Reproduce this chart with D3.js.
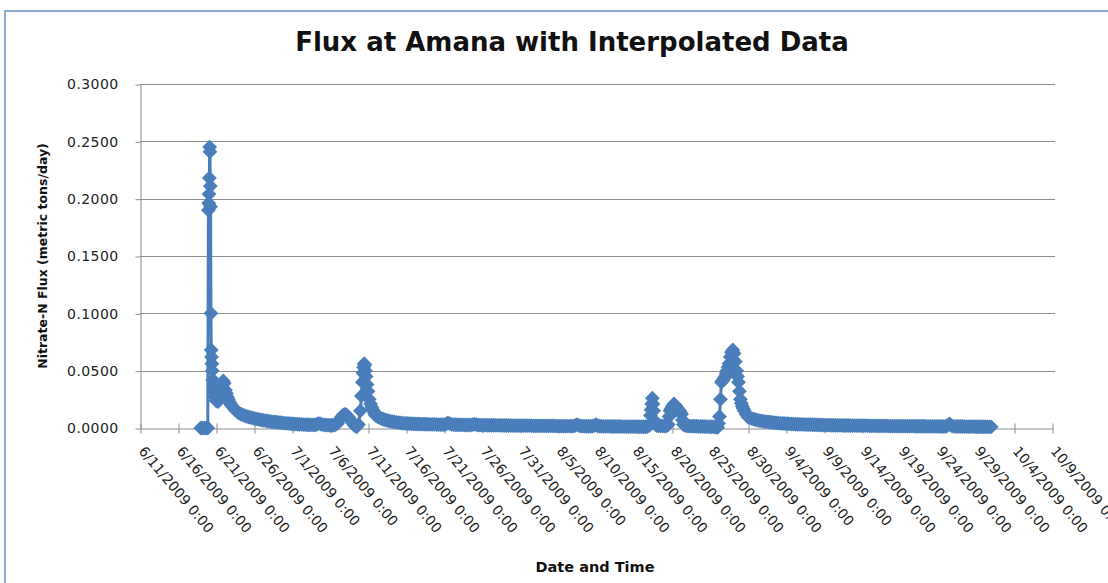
<html>
<head>
<script src="https://cdn.jsdelivr.net/npm/d3@7"></script>
<style>
    body {
        margin: 0;
        background: white;
        font-family: "DejaVu Sans", Verdana, sans-serif;
    }
</style>
</head>
<body>
<svg id="FluxChart"></svg>

<script>
    // Data
    // time stamps of the readings (each line of times matches the same line of values below)
    const readingTimes = [
        "6/19/2009 0:00", "6/19/2009 6:00", "6/19/2009 12:00", "6/19/2009 18:00", "6/19/2009 22:00",
        "6/20/2009 0:00", "6/20/2009 1:00", "6/20/2009 2:00", "6/20/2009 3:00", "6/20/2009 4:00", "6/20/2009 5:00", "6/20/2009 6:00", "6/20/2009 7:00",
        "6/20/2009 8:00", "6/20/2009 9:00", "6/20/2009 10:00", "6/20/2009 11:00", "6/20/2009 12:00", "6/20/2009 14:00", "6/20/2009 16:00", "6/20/2009 18:00", "6/20/2009 21:00",
        "6/21/2009 0:00", "6/21/2009 3:00", "6/21/2009 6:00", "6/21/2009 9:00", "6/21/2009 12:00", "6/21/2009 16:00", "6/21/2009 20:00", "6/21/2009 23:00",
        "6/22/2009 2:00", "6/22/2009 6:00", "6/22/2009 9:00", "6/22/2009 12:00", "6/22/2009 15:00", "6/22/2009 18:00", "6/22/2009 21:00",
        "6/23/2009 0:00", "6/23/2009 6:00", "6/23/2009 12:00", "6/23/2009 18:00",
        "6/24/2009 0:00", "6/24/2009 6:00", "6/24/2009 12:00", "6/24/2009 18:00",
        "6/25/2009 0:00", "6/25/2009 6:00", "6/25/2009 12:00", "6/25/2009 18:00",
        "6/26/2009 0:00", "6/26/2009 6:00", "6/26/2009 12:00", "6/26/2009 18:00",
        "6/27/2009 0:00", "6/27/2009 6:00", "6/27/2009 12:00", "6/27/2009 18:00",
        "6/28/2009 0:00", "6/28/2009 6:00", "6/28/2009 12:00", "6/28/2009 18:00",
        "6/29/2009 0:00", "6/29/2009 6:00", "6/29/2009 12:00", "6/29/2009 18:00",
        "6/30/2009 0:00", "6/30/2009 6:00", "6/30/2009 12:00", "6/30/2009 18:00",
        "7/1/2009 0:00", "7/1/2009 6:00", "7/1/2009 12:00", "7/1/2009 18:00",
        "7/2/2009 0:00", "7/2/2009 6:00", "7/2/2009 12:00", "7/2/2009 18:00",
        "7/3/2009 0:00", "7/3/2009 6:00", "7/3/2009 12:00", "7/3/2009 18:00",
        "7/4/2009 0:00", "7/4/2009 6:00", "7/4/2009 12:00", "7/4/2009 18:00",
        "7/5/2009 0:00", "7/5/2009 6:00", "7/5/2009 12:00", "7/5/2009 18:00",
        "7/6/2009 0:00", "7/6/2009 6:00", "7/6/2009 12:00", "7/6/2009 18:00",
        "7/7/2009 0:00", "7/7/2009 6:00", "7/7/2009 12:00", "7/7/2009 18:00",
        "7/8/2009 0:00", "7/8/2009 6:00", "7/8/2009 12:00", "7/8/2009 18:00",
        "7/9/2009 0:00", "7/9/2009 6:00", "7/9/2009 12:00", "7/9/2009 18:00",
        "7/10/2009 0:00", "7/10/2009 3:00", "7/10/2009 6:00", "7/10/2009 8:00", "7/10/2009 10:00", "7/10/2009 12:00", "7/10/2009 14:00", "7/10/2009 16:00", "7/10/2009 18:00", "7/10/2009 21:00",
        "7/11/2009 0:00", "7/11/2009 4:00", "7/11/2009 8:00", "7/11/2009 12:00", "7/11/2009 15:00", "7/11/2009 18:00", "7/11/2009 21:00",
        "7/12/2009 0:00", "7/12/2009 6:00", "7/12/2009 12:00", "7/12/2009 18:00",
        "7/13/2009 0:00", "7/13/2009 6:00", "7/13/2009 12:00", "7/13/2009 18:00",
        "7/14/2009 0:00", "7/14/2009 6:00", "7/14/2009 12:00", "7/14/2009 18:00",
        "7/15/2009 0:00", "7/15/2009 6:00", "7/15/2009 12:00", "7/15/2009 18:00",
        "7/16/2009 0:00", "7/16/2009 6:00", "7/16/2009 12:00", "7/16/2009 18:00",
        "7/17/2009 0:00", "7/17/2009 6:00", "7/17/2009 12:00", "7/17/2009 18:00",
        "7/18/2009 0:00", "7/18/2009 6:00", "7/18/2009 12:00", "7/18/2009 18:00",
        "7/19/2009 0:00", "7/19/2009 6:00", "7/19/2009 12:00", "7/19/2009 18:00",
        "7/20/2009 0:00", "7/20/2009 6:00", "7/20/2009 12:00", "7/20/2009 18:00",
        "7/21/2009 0:00", "7/21/2009 6:00", "7/21/2009 12:00", "7/21/2009 18:00",
        "7/22/2009 0:00", "7/22/2009 6:00", "7/22/2009 12:00", "7/22/2009 18:00",
        "7/23/2009 0:00", "7/23/2009 6:00", "7/23/2009 12:00", "7/23/2009 18:00",
        "7/24/2009 0:00", "7/24/2009 6:00", "7/24/2009 12:00", "7/24/2009 18:00",
        "7/25/2009 0:00", "7/25/2009 6:00", "7/25/2009 12:00", "7/25/2009 18:00",
        "7/26/2009 0:00", "7/26/2009 6:00", "7/26/2009 12:00", "7/26/2009 18:00",
        "7/27/2009 0:00", "7/27/2009 6:00", "7/27/2009 12:00", "7/27/2009 18:00",
        "7/28/2009 0:00", "7/28/2009 6:00", "7/28/2009 12:00", "7/28/2009 18:00",
        "7/29/2009 0:00", "7/29/2009 6:00", "7/29/2009 12:00", "7/29/2009 18:00",
        "7/30/2009 0:00", "7/30/2009 6:00", "7/30/2009 12:00", "7/30/2009 18:00",
        "7/31/2009 0:00", "7/31/2009 6:00", "7/31/2009 12:00", "7/31/2009 18:00",
        "8/1/2009 0:00", "8/1/2009 6:00", "8/1/2009 12:00", "8/1/2009 18:00",
        "8/2/2009 0:00", "8/2/2009 6:00", "8/2/2009 12:00", "8/2/2009 18:00",
        "8/3/2009 0:00", "8/3/2009 6:00", "8/3/2009 12:00", "8/3/2009 18:00",
        "8/4/2009 0:00", "8/4/2009 6:00", "8/4/2009 12:00", "8/4/2009 18:00",
        "8/5/2009 0:00", "8/5/2009 6:00", "8/5/2009 12:00", "8/5/2009 18:00",
        "8/6/2009 0:00", "8/6/2009 6:00", "8/6/2009 12:00", "8/6/2009 18:00",
        "8/7/2009 0:00", "8/7/2009 6:00", "8/7/2009 12:00", "8/7/2009 18:00",
        "8/8/2009 0:00", "8/8/2009 6:00", "8/8/2009 12:00", "8/8/2009 18:00",
        "8/9/2009 0:00", "8/9/2009 6:00", "8/9/2009 12:00", "8/9/2009 18:00",
        "8/10/2009 0:00", "8/10/2009 6:00", "8/10/2009 12:00", "8/10/2009 18:00",
        "8/11/2009 0:00", "8/11/2009 6:00", "8/11/2009 12:00", "8/11/2009 18:00",
        "8/12/2009 0:00", "8/12/2009 6:00", "8/12/2009 12:00", "8/12/2009 18:00",
        "8/13/2009 0:00", "8/13/2009 6:00", "8/13/2009 12:00", "8/13/2009 18:00",
        "8/14/2009 0:00", "8/14/2009 6:00", "8/14/2009 12:00", "8/14/2009 18:00",
        "8/15/2009 0:00", "8/15/2009 6:00", "8/15/2009 12:00", "8/15/2009 18:00",
        "8/16/2009 0:00", "8/16/2009 6:00", "8/16/2009 12:00", "8/16/2009 18:00",
        "8/17/2009 0:00", "8/17/2009 4:00", "8/17/2009 6:00", "8/17/2009 8:00", "8/17/2009 10:00", "8/17/2009 12:00", "8/17/2009 14:00", "8/17/2009 18:00", "8/17/2009 21:00",
        "8/18/2009 0:00", "8/18/2009 6:00", "8/18/2009 12:00", "8/18/2009 18:00",
        "8/19/2009 0:00", "8/19/2009 6:00", "8/19/2009 12:00", "8/19/2009 15:00", "8/19/2009 18:00", "8/19/2009 21:00",
        "8/20/2009 0:00", "8/20/2009 3:00", "8/20/2009 6:00", "8/20/2009 9:00", "8/20/2009 12:00", "8/20/2009 15:00", "8/20/2009 18:00", "8/20/2009 21:00",
        "8/21/2009 0:00", "8/21/2009 3:00", "8/21/2009 6:00", "8/21/2009 9:00", "8/21/2009 12:00", "8/21/2009 18:00",
        "8/22/2009 0:00", "8/22/2009 6:00", "8/22/2009 12:00", "8/22/2009 18:00",
        "8/23/2009 0:00", "8/23/2009 6:00", "8/23/2009 12:00", "8/23/2009 18:00",
        "8/24/2009 0:00", "8/24/2009 6:00", "8/24/2009 12:00", "8/24/2009 18:00",
        "8/25/2009 0:00", "8/25/2009 6:00", "8/25/2009 12:00", "8/25/2009 18:00",
        "8/26/2009 0:00", "8/26/2009 3:00", "8/26/2009 6:00", "8/26/2009 9:00", "8/26/2009 12:00", "8/26/2009 15:00", "8/26/2009 18:00", "8/26/2009 21:00",
        "8/27/2009 0:00", "8/27/2009 3:00", "8/27/2009 6:00", "8/27/2009 9:00", "8/27/2009 12:00", "8/27/2009 16:00", "8/27/2009 20:00",
        "8/28/2009 0:00", "8/28/2009 4:00", "8/28/2009 8:00", "8/28/2009 12:00", "8/28/2009 15:00", "8/28/2009 18:00", "8/28/2009 21:00",
        "8/29/2009 0:00", "8/29/2009 3:00", "8/29/2009 6:00", "8/29/2009 9:00", "8/29/2009 12:00", "8/29/2009 18:00",
        "8/30/2009 0:00", "8/30/2009 6:00", "8/30/2009 12:00", "8/30/2009 18:00",
        "8/31/2009 0:00", "8/31/2009 6:00", "8/31/2009 12:00", "8/31/2009 18:00",
        "9/1/2009 0:00", "9/1/2009 6:00", "9/1/2009 12:00", "9/1/2009 18:00",
        "9/2/2009 0:00", "9/2/2009 6:00", "9/2/2009 12:00", "9/2/2009 18:00",
        "9/3/2009 0:00", "9/3/2009 6:00", "9/3/2009 12:00", "9/3/2009 18:00",
        "9/4/2009 0:00", "9/4/2009 6:00", "9/4/2009 12:00", "9/4/2009 18:00",
        "9/5/2009 0:00", "9/5/2009 6:00", "9/5/2009 12:00", "9/5/2009 18:00",
        "9/6/2009 0:00", "9/6/2009 6:00", "9/6/2009 12:00", "9/6/2009 18:00",
        "9/7/2009 0:00", "9/7/2009 6:00", "9/7/2009 12:00", "9/7/2009 18:00",
        "9/8/2009 0:00", "9/8/2009 6:00", "9/8/2009 12:00", "9/8/2009 18:00",
        "9/9/2009 0:00", "9/9/2009 6:00", "9/9/2009 12:00", "9/9/2009 18:00",
        "9/10/2009 0:00", "9/10/2009 6:00", "9/10/2009 12:00", "9/10/2009 18:00",
        "9/11/2009 0:00", "9/11/2009 6:00", "9/11/2009 12:00", "9/11/2009 18:00",
        "9/12/2009 0:00", "9/12/2009 6:00", "9/12/2009 12:00", "9/12/2009 18:00",
        "9/13/2009 0:00", "9/13/2009 6:00", "9/13/2009 12:00", "9/13/2009 18:00",
        "9/14/2009 0:00", "9/14/2009 6:00", "9/14/2009 12:00", "9/14/2009 18:00",
        "9/15/2009 0:00", "9/15/2009 6:00", "9/15/2009 12:00", "9/15/2009 18:00",
        "9/16/2009 0:00", "9/16/2009 6:00", "9/16/2009 12:00", "9/16/2009 18:00",
        "9/17/2009 0:00", "9/17/2009 6:00", "9/17/2009 12:00", "9/17/2009 18:00",
        "9/18/2009 0:00", "9/18/2009 6:00", "9/18/2009 12:00", "9/18/2009 18:00",
        "9/19/2009 0:00", "9/19/2009 6:00", "9/19/2009 12:00", "9/19/2009 18:00",
        "9/20/2009 0:00", "9/20/2009 6:00", "9/20/2009 12:00", "9/20/2009 18:00",
        "9/21/2009 0:00", "9/21/2009 6:00", "9/21/2009 12:00", "9/21/2009 18:00",
        "9/22/2009 0:00", "9/22/2009 6:00", "9/22/2009 12:00", "9/22/2009 18:00",
        "9/23/2009 0:00", "9/23/2009 6:00", "9/23/2009 12:00", "9/23/2009 18:00",
        "9/24/2009 0:00", "9/24/2009 6:00", "9/24/2009 12:00", "9/24/2009 18:00",
        "9/25/2009 0:00", "9/25/2009 6:00", "9/25/2009 12:00", "9/25/2009 18:00",
        "9/26/2009 0:00", "9/26/2009 6:00", "9/26/2009 12:00", "9/26/2009 18:00",
        "9/27/2009 0:00", "9/27/2009 6:00", "9/27/2009 12:00", "9/27/2009 18:00",
        "9/28/2009 0:00", "9/28/2009 6:00", "9/28/2009 12:00", "9/28/2009 18:00",
        "9/29/2009 0:00", "9/29/2009 6:00", "9/29/2009 12:00", "9/29/2009 18:00",
        "9/30/2009 0:00", "9/30/2009 6:00", "9/30/2009 12:00", "9/30/2009 18:00",
        "10/1/2009 0:00"
    ];

    // nitrate-N flux, metric tons/day
    const nitrateFlux = [
        0.0000, 0.0000, 0.0000, 0.0000, 0.0000,
        0.1900, 0.1960, 0.2040, 0.2180, 0.2450, 0.2410, 0.2110, 0.1930,
        0.1000, 0.0680, 0.0620, 0.0560, 0.0500, 0.0420, 0.0360, 0.0310, 0.0270,
        0.0240, 0.0235, 0.0230, 0.0240, 0.0260, 0.0310, 0.0360, 0.0410,
        0.0390, 0.0330, 0.0300, 0.0270, 0.0250, 0.0230, 0.0215,
        0.0200, 0.0180, 0.0160, 0.0145,
        0.0130, 0.0122, 0.0115, 0.0108,
        0.0102, 0.0097, 0.0092, 0.0088,
        0.0084, 0.0080, 0.0077, 0.0073,
        0.0070, 0.0067, 0.0064, 0.0061,
        0.0059, 0.0056, 0.0054, 0.0052,
        0.0050, 0.0048, 0.0046, 0.0044,
        0.0043, 0.0041, 0.0040, 0.0038,
        0.0037, 0.0035, 0.0034, 0.0033,
        0.0032, 0.0031, 0.0030, 0.0029,
        0.0028, 0.0028, 0.0027, 0.0027,
        0.0026, 0.0032, 0.0040, 0.0036,
        0.0030, 0.0027, 0.0025, 0.0025,
        0.0024, 0.0024, 0.0023, 0.0030,
        0.0040, 0.0070, 0.0095, 0.0115,
        0.0120, 0.0110, 0.0090, 0.0065,
        0.0040, 0.0020, 0.0010, 0.0030,
        0.0150, 0.0280, 0.0400, 0.0480, 0.0530, 0.0560, 0.0550, 0.0500, 0.0450, 0.0380,
        0.0320, 0.0250, 0.0210, 0.0180, 0.0160, 0.0145, 0.0125,
        0.0110, 0.0100, 0.0090, 0.0083,
        0.0076, 0.0071, 0.0066, 0.0062,
        0.0058, 0.0055, 0.0052, 0.0049,
        0.0047, 0.0045, 0.0043, 0.0041,
        0.0040, 0.0039, 0.0038, 0.0037,
        0.0036, 0.0036, 0.0035, 0.0035,
        0.0034, 0.0034, 0.0033, 0.0033,
        0.0032, 0.0032, 0.0031, 0.0031,
        0.0030, 0.0030, 0.0030, 0.0029,
        0.0029, 0.0034, 0.0045, 0.0038,
        0.0031, 0.0029, 0.0028, 0.0028,
        0.0027, 0.0027, 0.0027, 0.0026,
        0.0026, 0.0026, 0.0026, 0.0029,
        0.0034, 0.0030, 0.0026, 0.0025,
        0.0025, 0.0025, 0.0025, 0.0024,
        0.0024, 0.0024, 0.0024, 0.0023,
        0.0023, 0.0023, 0.0023, 0.0022,
        0.0022, 0.0022, 0.0022, 0.0022,
        0.0021, 0.0021, 0.0021, 0.0021,
        0.0021, 0.0020, 0.0020, 0.0020,
        0.0020, 0.0020, 0.0020, 0.0019,
        0.0019, 0.0019, 0.0019, 0.0019,
        0.0019, 0.0018, 0.0018, 0.0018,
        0.0018, 0.0018, 0.0018, 0.0017,
        0.0017, 0.0017, 0.0017, 0.0017,
        0.0017, 0.0016, 0.0016, 0.0016,
        0.0016, 0.0022, 0.0030, 0.0022,
        0.0017, 0.0016, 0.0015, 0.0015,
        0.0015, 0.0015, 0.0015, 0.0020,
        0.0028, 0.0020, 0.0015, 0.0015,
        0.0014, 0.0014, 0.0014, 0.0014,
        0.0013, 0.0013, 0.0013, 0.0013,
        0.0013, 0.0013, 0.0012, 0.0012,
        0.0012, 0.0012, 0.0012, 0.0012,
        0.0012, 0.0012, 0.0011, 0.0011,
        0.0011, 0.0011, 0.0011, 0.0013,
        0.0020, 0.0110, 0.0160, 0.0210, 0.0260, 0.0210, 0.0150, 0.0060, 0.0030,
        0.0020, 0.0019, 0.0018, 0.0018,
        0.0017, 0.0017, 0.0030, 0.0100, 0.0150, 0.0165,
        0.0180, 0.0195, 0.0210, 0.0200, 0.0190, 0.0180, 0.0170, 0.0160,
        0.0150, 0.0135, 0.0120, 0.0070, 0.0030, 0.0020,
        0.0018, 0.0017, 0.0016, 0.0016,
        0.0015, 0.0015, 0.0014, 0.0014,
        0.0013, 0.0013, 0.0012, 0.0012,
        0.0011, 0.0011, 0.0010, 0.0008,
        0.0005, 0.0040, 0.0100, 0.0250, 0.0400, 0.0410, 0.0420, 0.0435,
        0.0450, 0.0475, 0.0500, 0.0530, 0.0560, 0.0620, 0.0660,
        0.0680, 0.0650, 0.0580, 0.0500, 0.0450, 0.0400, 0.0320,
        0.0250, 0.0215, 0.0190, 0.0170, 0.0150, 0.0120,
        0.0095, 0.0088, 0.0082, 0.0077,
        0.0072, 0.0068, 0.0065, 0.0062,
        0.0059, 0.0056, 0.0054, 0.0052,
        0.0050, 0.0048, 0.0046, 0.0044,
        0.0043, 0.0041, 0.0040, 0.0039,
        0.0038, 0.0037, 0.0036, 0.0035,
        0.0034, 0.0033, 0.0032, 0.0032,
        0.0031, 0.0031, 0.0030, 0.0030,
        0.0029, 0.0029, 0.0028, 0.0028,
        0.0027, 0.0027, 0.0026, 0.0026,
        0.0025, 0.0025, 0.0025, 0.0025,
        0.0024, 0.0024, 0.0023, 0.0023,
        0.0023, 0.0023, 0.0022, 0.0022,
        0.0022, 0.0022, 0.0021, 0.0021,
        0.0021, 0.0021, 0.0020, 0.0020,
        0.0020, 0.0020, 0.0020, 0.0020,
        0.0019, 0.0019, 0.0019, 0.0019,
        0.0018, 0.0018, 0.0018, 0.0018,
        0.0018, 0.0018, 0.0017, 0.0017,
        0.0017, 0.0017, 0.0017, 0.0017,
        0.0016, 0.0016, 0.0016, 0.0016,
        0.0016, 0.0016, 0.0016, 0.0016,
        0.0015, 0.0015, 0.0015, 0.0015,
        0.0015, 0.0015, 0.0014, 0.0014,
        0.0014, 0.0014, 0.0014, 0.0014,
        0.0014, 0.0014, 0.0013, 0.0013,
        0.0013, 0.0022, 0.0035, 0.0022,
        0.0014, 0.0014, 0.0013, 0.0013,
        0.0013, 0.0013, 0.0012, 0.0012,
        0.0012, 0.0012, 0.0012, 0.0012,
        0.0011, 0.0011, 0.0011, 0.0011,
        0.0011, 0.0011, 0.0010, 0.0010,
        0.0010
    ];

    // axis ticks
    const xTickLabels = [
        "6/11/2009 0:00", "6/16/2009 0:00", "6/21/2009 0:00", "6/26/2009 0:00", "7/1/2009 0:00",
        "7/6/2009 0:00", "7/11/2009 0:00", "7/16/2009 0:00", "7/21/2009 0:00", "7/26/2009 0:00",
        "7/31/2009 0:00", "8/5/2009 0:00", "8/10/2009 0:00", "8/15/2009 0:00", "8/20/2009 0:00",
        "8/25/2009 0:00", "8/30/2009 0:00", "9/4/2009 0:00", "9/9/2009 0:00", "9/14/2009 0:00",
        "9/19/2009 0:00", "9/24/2009 0:00", "9/29/2009 0:00", "10/4/2009 0:00", "10/9/2009 0:00"
    ];
    const yTickValues = [0, 0.05, 0.10, 0.15, 0.20, 0.25, 0.30];

    const chartTitle = "Flux at Amana with Interpolated Data";
    const xTitle = "Date and Time";
    const yTitle = "Nitrate-N Flux (metric tons/day)";

    let parseTime = d3.timeParse("%m/%d/%Y %H:%M");
    let seriesColor = "#4a7ebb";
    let gridColor = "#8c8c8c";

    // config
    function getConfig() {
        let width = 1108;
        let height = 583;
        let margin = { top: 84, bottom: 155, left: 140, right: 56 };
        let container = d3.select("#FluxChart")
            .attr("width", width)
            .attr("height", height);
        return { width, height, margin, container };
    }

    // scales
    function getScales(config) {
        let { width, height, margin } = config;
        let xScale = d3.scaleTime()
            .domain([parseTime(xTickLabels[0]), parseTime(xTickLabels[xTickLabels.length - 1])])
            .range([margin.left, width - margin.right]);
        let yScale = d3.scaleLinear()
            .domain([0, d3.max(yTickValues)])
            .range([height - margin.bottom, margin.top]);
        return { xScale, yScale };
    }

    // outer frame of the chart area
    function drawFrame(config) {
        config.container.append("rect")
            .attr("x", 5)
            .attr("y", 11)
            .attr("width", 1300)
            .attr("height", 800)
            .attr("fill", "white")
            .attr("stroke", "#8eaad2")
            .attr("stroke-width", 2);
    }

    // horizontal gridlines
    function drawGrid(scales, config) {
        let { xScale, yScale } = scales;
        config.container.append("g")
            .selectAll("line")
            .data(yTickValues.slice(1))
            .enter()
            .append("line")
            .attr("x1", xScale.range()[0])
            .attr("x2", xScale.range()[1] + 3)
            .attr("y1", d => Math.round(yScale(d)) + 0.5)
            .attr("y2", d => Math.round(yScale(d)) + 0.5)
            .attr("stroke", gridColor)
            .attr("stroke-width", 1);
    }

    // axes
    function drawAxes(scales, config) {
        let { xScale, yScale } = scales;
        let { container } = config;

        let axisY = d3.axisLeft(yScale)
            .tickValues(yTickValues)
            .tickFormat(d3.format(".4f"))
            .tickSizeInner(5)
            .tickSizeOuter(0)
            .tickPadding(17);
        let gy = container.append("g")
            .attr("transform", `translate(${xScale.range()[0] + 0.5}, 0.5)`)
            .call(axisY);
        gy.selectAll("path, line").attr("stroke", gridColor);
        gy.selectAll("text")
            .attr("fill", "#222")
            .style("font-family", "DejaVu Sans")
            .style("font-size", "14px")
            .style("letter-spacing", "0.4px");

        let axisX = d3.axisBottom(xScale)
            .tickValues(xTickLabels.map(parseTime))
            .tickFormat((d, i) => xTickLabels[i])
            .tickSizeInner(5)
            .tickSizeOuter(0);
        let gx = container.append("g")
            .attr("transform", `translate(0.5, ${yScale(0) + 0.5})`)
            .call(axisX);
        gx.selectAll("path, line").attr("stroke", gridColor);
        gx.selectAll(".tick line").attr("y1", -5);
        gx.selectAll("text")
            .attr("x", null)
            .attr("y", null)
            .attr("dy", null)
            .attr("transform", "translate(-3, 23) rotate(50)")
            .attr("text-anchor", "start")
            .attr("fill", "#222")
            .style("font-family", "DejaVu Sans")
            .style("font-size", "14px");
    }

    // Excel style diamond marker
    let diamond = {
        draw(context, size) {
            let r = Math.sqrt(size / 2);
            context.moveTo(0, -r);
            context.lineTo(r, 0);
            context.lineTo(0, r);
            context.lineTo(-r, 0);
            context.closePath();
        }
    };

    // series line and markers
    function drawSeries(points, scales, config) {
        let { xScale, yScale } = scales;
        let body = config.container.append("g");

        let line = d3.line()
            .x(d => xScale(d.date))
            .y(d => yScale(d.flux));

        body.append("path")
            .datum(points)
            .attr("d", line)
            .attr("fill", "none")
            .attr("stroke", seriesColor)
            .attr("stroke-width", 3)
            .attr("stroke-linejoin", "round");

        body.selectAll(".marker")
            .data(points)
            .enter()
            .append("path")
            .attr("class", "marker")
            .attr("d", d3.symbol().type(diamond).size(110))
            .attr("transform", d => `translate(${xScale(d.date)}, ${yScale(d.flux)})`)
            .attr("fill", seriesColor);
    }

    // titles
    function drawTitles(scales, config) {
        let { container } = config;
        let { yScale } = scales;

        container.append("text")
            .attr("x", 572)
            .attr("y", 51)
            .attr("text-anchor", "middle")
            .style("font-family", "DejaVu Sans")
            .style("font-weight", "bold")
            .style("font-size", "26px")
            .attr("fill", "#111")
            .text(chartTitle);

        container.append("text")
            .attr("x", 595)
            .attr("y", 572)
            .attr("text-anchor", "middle")
            .style("font-family", "DejaVu Sans")
            .style("font-weight", "bold")
            .style("font-size", "14.5px")
            .attr("fill", "#111")
            .text(xTitle);

        let midY = (yScale.range()[0] + yScale.range()[1]) / 2;
        container.append("text")
            .attr("transform", `translate(47, ${midY}) rotate(-90)`)
            .attr("text-anchor", "middle")
            .style("font-family", "DejaVu Sans")
            .style("font-weight", "bold")
            .style("font-size", "12.5px")
            .attr("fill", "#111")
            .text(yTitle);
    }

    function showChart() {
        console.log(readingTimes.length, nitrateFlux.length);
        let points = readingTimes.map((t, i) => ({ date: parseTime(t), flux: nitrateFlux[i] }));
        let config = getConfig();
        let scales = getScales(config);
        drawFrame(config);
        drawGrid(scales, config);
        drawAxes(scales, config);
        drawSeries(points, scales, config);
        drawTitles(scales, config);
    }

    showChart();
</script>
</body>
</html>
